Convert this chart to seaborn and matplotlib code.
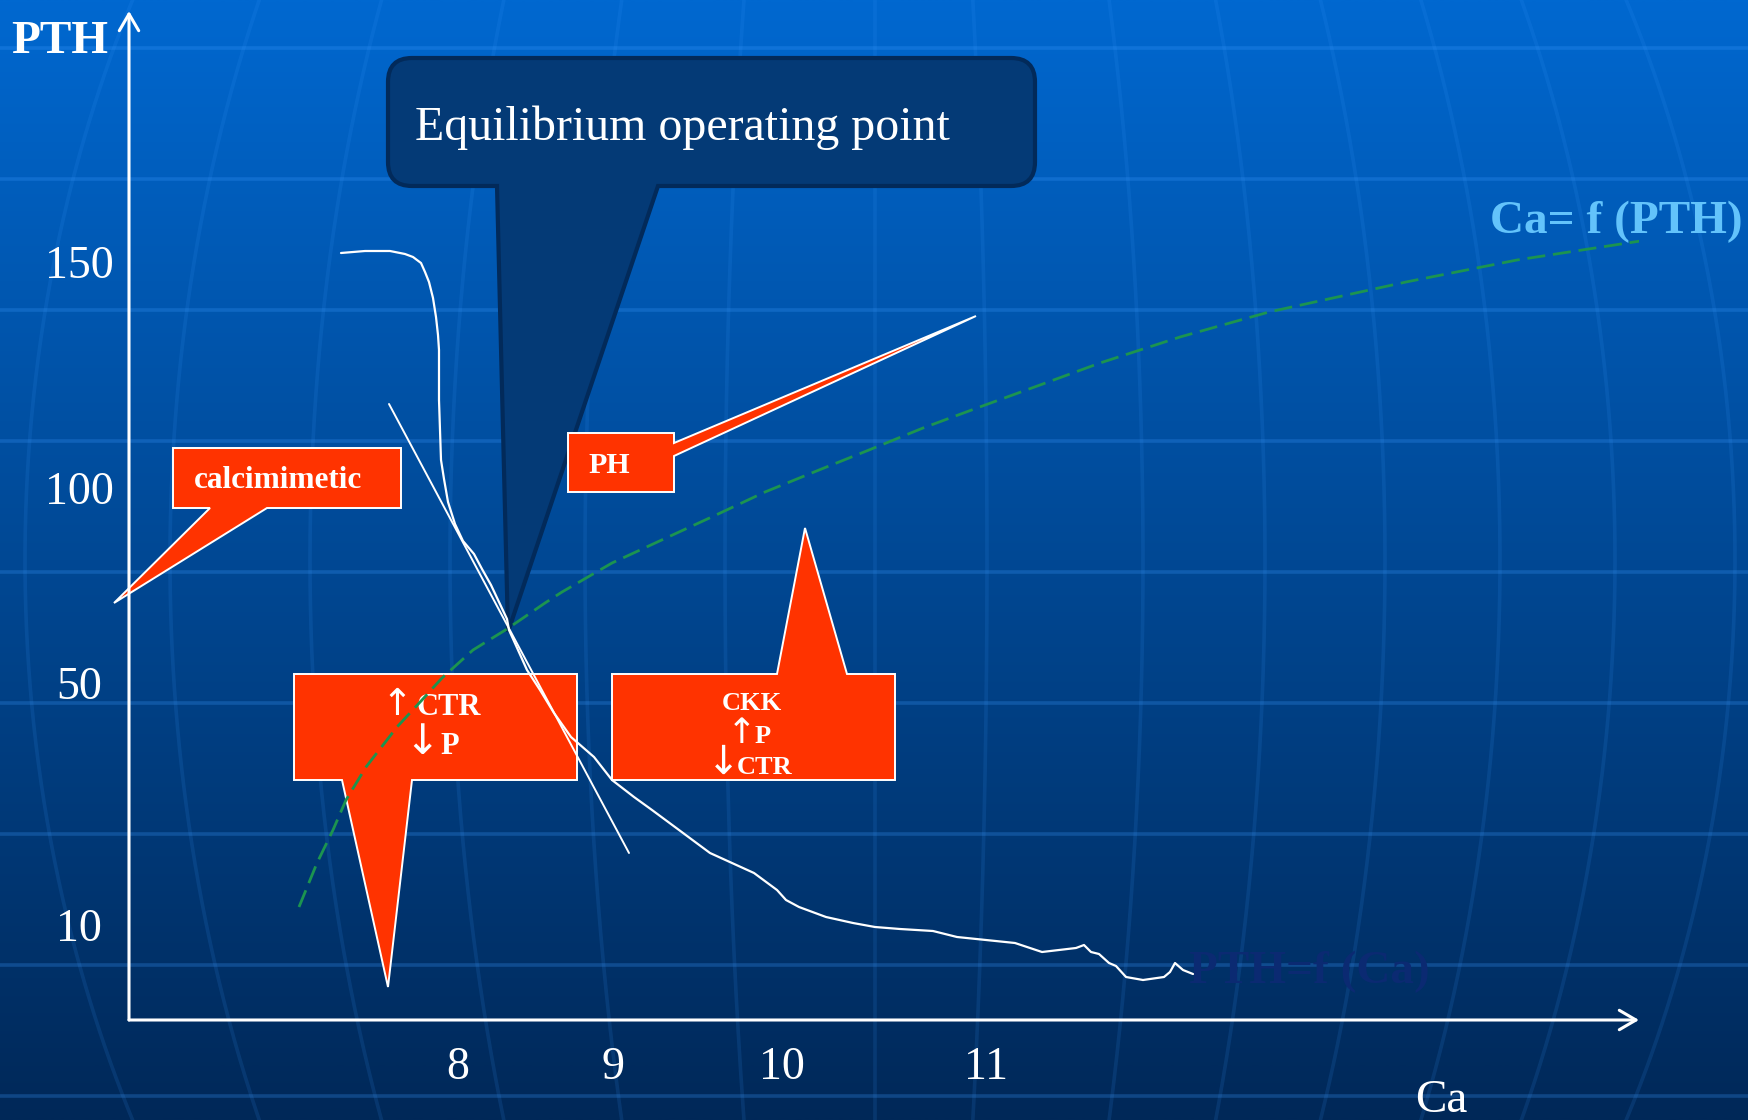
import numpy as np
import matplotlib
matplotlib.use("Agg")
import matplotlib.pyplot as plt
from matplotlib.path import Path
from matplotlib.patches import PathPatch, Polygon
from matplotlib.textpath import TextPath
from matplotlib.font_manager import FontProperties
import pandas as pd
import seaborn as sns

W, H = 1748, 1120

# Diagram units: origin at the corner of the two axes, one unit per pixel.
# PTH = f(Ca) response curve
pth_curve_ca = [212, 236, 261, 276, 284, 292, 296, 300, 304, 307, 309, 310, 310, 310,
                311, 312, 315, 319, 326, 334, 345, 353, 362, 370, 378, 380, 389, 398,
                411, 425, 442, 465, 483, 505, 523, 550, 581, 603, 625, 648, 657, 670,
                697, 724, 746, 771, 804, 828, 886, 913, 947, 955, 962, 970, 980, 987,
                997, 1014, 1035, 1041, 1046, 1054, 1064]
pth_curve_pth = [767, 769, 769, 766, 763, 757, 748, 738, 722, 703, 685, 670, 640, 620,
                 590, 560, 541, 518, 496, 479, 466, 451, 435, 418, 401, 390, 370, 350,
                 330, 307, 283, 263, 240, 223, 210, 190, 167, 157, 147, 130, 120, 113,
                 103, 97, 93, 91, 89, 83, 77, 68, 72, 75, 68, 66, 57, 54,
                 43, 40, 43, 48, 57, 50, 46]

# Tangent at the operating point
tangent_ca = [260, 500]
tangent_pth = [616, 167]

# Ca = f(PTH) curve
ca_curve_ca = [170, 188, 204, 217, 237, 268, 293, 313, 344, 378, 416, 433, 483, 537,
               587, 636, 690, 740, 794, 848, 911, 971, 1051, 1140, 1277, 1388, 1531]
ca_curve_pth = [113, 157, 190, 220, 253, 293, 320, 342, 370, 391, 417, 428, 457, 482,
                505, 528, 550, 570, 592, 612, 635, 657, 683, 708, 738, 760, 782]

ca_ticks = [329, 484, 653, 857]
ca_tick_labels = ["8", "9", "10", "11"]
pth_ticks = [95, 337, 532, 758]
pth_tick_labels = ["10", "50", "100", "150"]

sns.set_style("white")
plt.rcParams["font.family"] = ["Liberation Serif", "DejaVu Serif"]

fig = plt.figure(figsize=(W / 100, H / 100), dpi=100)

# ---- slide background -------------------------------------------------
bg = fig.add_axes([0, 0, 1, 1])
bg.set_xlim(0, W)
bg.set_ylim(H, 0)
bg.axis("off")

top = np.array([0x00, 0x68, 0xD0]) / 255
bot = np.array([0x00, 0x28, 0x58]) / 255
t = np.linspace(0, 1, 256)[:, None]
grad = top * (1 - t) + bot * t
img = np.repeat(grad[:, None, :], 2, axis=1)
bg.imshow(img, extent=[0, W, H, 0], aspect="auto", zorder=0, interpolation="bilinear")

grid_col = "#3d9bff"
for y in 48 + 131 * np.arange(9):
    bg.plot([0, W], [y, y], color=grid_col, alpha=0.26, lw=2.6, zorder=1)

cx, cy, ry = 875, 560, 1150
yy = np.linspace(-20, H + 20, 300)
f = np.sqrt(1 - ((yy - cy) / ry) ** 2)
for a in [-850, -705, -565, -425, -290, -150, 0, 112, 268, 390, 510, 625, 740, 860]:
    bg.plot(cx + a * f, yy, color=grid_col, alpha=0.13, lw=2.6, zorder=1)

# ---- callouts -----------------------------------------------------------
L, R, T, B, r = 388, 1035, 58, 186, 24
x1, x2, tip = 497, 658, (508, 632)
verts = [(L + r, T), (R - r, T), (R, T), (R, T + r), (R, B - r), (R, B), (R - r, B),
         (x2, B), tip, (x1, B), (L + r, B), (L, B), (L, B - r), (L, T + r), (L, T),
         (L + r, T), (L + r, T)]
codes = [Path.MOVETO, Path.LINETO, Path.CURVE3, Path.CURVE3, Path.LINETO, Path.CURVE3,
         Path.CURVE3, Path.LINETO, Path.LINETO, Path.LINETO, Path.LINETO, Path.CURVE3,
         Path.CURVE3, Path.LINETO, Path.CURVE3, Path.CURVE3, Path.CLOSEPOLY]
bg.add_patch(PathPatch(Path(verts, codes), facecolor="#043a76", edgecolor="#022a5a",
                       lw=3, zorder=3))
bg.text(415, 140, "Equilibrium operating point", color="white", fontsize=34.5,
        ha="left", va="baseline", zorder=6)

red = "#ff3300"
shapes = [
    [(173, 448), (401, 448), (401, 508), (267, 508), (114, 603), (210, 508), (173, 508)],
    [(568, 433), (674, 433), (674, 443), (976, 316), (674, 456), (674, 492), (568, 492)],
    [(294, 674), (577, 674), (577, 780), (412, 780), (388, 987), (342, 780), (294, 780)],
    [(612, 674), (777, 674), (805, 528), (847, 674), (895, 674), (895, 780), (612, 780)],
]
for pts in shapes:
    bg.add_patch(Polygon(pts, closed=True, facecolor=red, edgecolor="white", lw=1.4,
                         joinstyle="miter", zorder=3))


def sign(ch, xc, ybot, height, family="DejaVu Sans"):
    """Draw an arrow character whose ink is centred on xc, sits on ybot, `height` px tall."""
    fp = FontProperties(family=family)
    e = TextPath((0, 0), ch, size=100, prop=fp).get_extents()
    em = height / (e.height / 100)
    x_left = xc - (e.x0 + e.x1) / 200 * em
    base = ybot + e.y0 / 100 * em
    bg.text(x_left, base, ch, fontproperties=fp, fontsize=em * 0.72, color="white",
            ha="left", va="baseline", zorder=6)


word = dict(color="white", fontweight="bold", va="baseline", zorder=6)
bg.text(278, 488, "calcimimetic", fontsize=22.5, ha="center", **word)
bg.text(609, 473, "PH", fontsize=21.5, ha="center", **word)

sign("\u2191", 397, 715, 27)
bg.text(417, 715, "CTR", fontsize=22, ha="left", **word)
sign("\u2193", 422, 754, 31)
bg.text(440, 754, "P", fontsize=22, ha="left", **word)

bg.text(752, 710, "CKK", fontsize=19, ha="center", **word)
sign("\u2191", 742, 743, 26)
bg.text(755, 743, "P", fontsize=19, ha="left", **word)
sign("\u2193", 723, 774, 29)
bg.text(737, 774, "CTR", fontsize=19, ha="left", **word)

bg.text(11, 53, "PTH", color="white", fontsize=34, fontweight="bold",
        ha="left", va="baseline", zorder=6)
bg.text(1415, 1112, "Ca", color="white", fontsize=34, ha="left", va="baseline", zorder=6)
bg.text(1490, 233, "Ca= f (PTH)", color="#63c3fb", fontsize=34, fontweight="bold",
        ha="left", va="baseline", zorder=6)
bg.text(1189, 983, "PTH=f (Ca)", color="#0b2a72", fontsize=34, fontweight="bold",
        ha="left", va="baseline", zorder=6)

# ---- axes and curves ----------------------------------------------------
ax = fig.add_axes([129 / W, (H - 1020) / H, (1639 - 129) / W, (1020 - 11) / H])
ax.patch.set_alpha(0)
ax.set_xlim(0, 1510)
ax.set_ylim(0, 1009)

pth_df = pd.DataFrame({"Ca": pth_curve_ca, "PTH": pth_curve_pth})
tan_df = pd.DataFrame({"Ca": tangent_ca, "PTH": tangent_pth})
ca_df = pd.DataFrame({"Ca": ca_curve_ca, "PTH": ca_curve_pth})

sns.lineplot(data=ca_df, x="Ca", y="PTH", sort=False, estimator=None, ax=ax,
             color="#1c9450", lw=2.0, linestyle=(0, (6.5, 2.8)))
sns.lineplot(data=pth_df, x="Ca", y="PTH", sort=False, estimator=None, ax=ax,
             color="white", lw=1.6)
sns.lineplot(data=tan_df, x="Ca", y="PTH", sort=False, estimator=None, ax=ax,
             color="white", lw=1.4)

for s in ax.spines.values():
    s.set_visible(False)
ax.grid(False)
ax.set_xlabel("")
ax.set_ylabel("")
ax.set_xticks(ca_ticks, ca_tick_labels)
ax.set_yticks(pth_ticks, pth_tick_labels)
ax.tick_params(length=0, labelsize=33, labelcolor="white")
ax.tick_params(axis="x", pad=19)
ax.tick_params(axis="y", pad=36)
for lbl in ax.get_yticklabels():
    lbl.set_horizontalalignment("center")

arrow = dict(arrowstyle="->,head_length=0.6,head_width=0.35", color="white", lw=2.2,
             shrinkA=0, shrinkB=0, mutation_scale=20)
ax.annotate("", xy=(1, 0), xycoords="axes fraction", xytext=(0, 0),
            textcoords="axes fraction", arrowprops=arrow, annotation_clip=False)
ax.annotate("", xy=(0, 1), xycoords="axes fraction", xytext=(0, 0),
            textcoords="axes fraction", arrowprops=arrow, annotation_clip=False)

fig.savefig("out.png", dpi=100)
